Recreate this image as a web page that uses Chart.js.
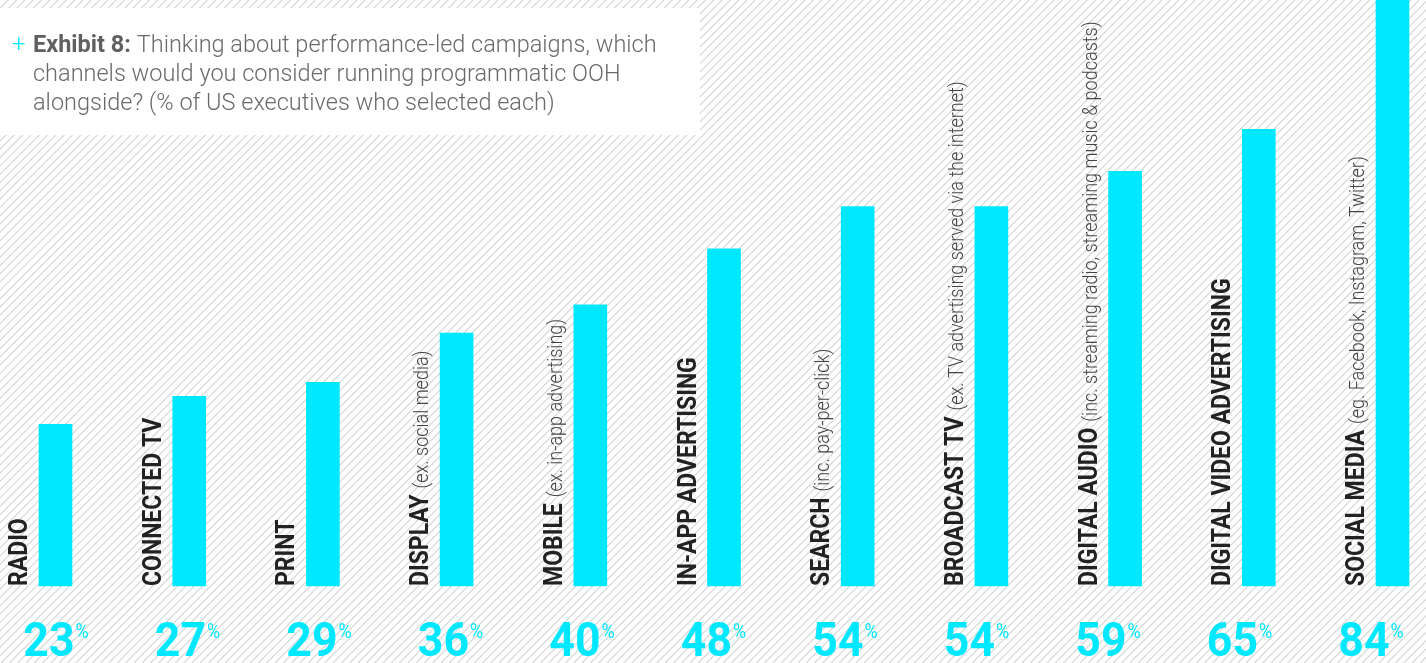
<!DOCTYPE html>
<html>
<head>
<meta charset="utf-8">
<script src="https://cdn.jsdelivr.net/npm/chart.js@4"></script>
<style>
html,body{margin:0;padding:0;background:#fff;}
canvas{display:block;}
</style>
</head>
<body>
<canvas id="c" width="1426" height="663"></canvas>
<script>
// ---- data ----
const channelNames = ["RADIO","CONNECTED TV","PRINT","DISPLAY","MOBILE","IN-APP ADVERTISING","SEARCH","BROADCAST TV","DIGITAL AUDIO","DIGITAL VIDEO ADVERTISING","SOCIAL MEDIA"];
const channelNotes = ["","","","(ex. social media)","(ex. in-app advertising)","","(inc. pay-per-click)","(ex. TV advertising served via the internet)","(inc. streaming radio, streaming music & podcasts)","","(eg. Facebook, Instagram, Twitter)"];
const shareSelected = [23,27,29,36,40,48,54,54,59,65,84];
const titleLines = ["Thinking about performance-led campaigns, which","channels would you consider running programmatic OOH","alongside? (% of US executives who selected each)"];
const exhibitLabel = "Exhibit 8:";

const CYAN = '#00E8FF';

const bgPlugin = {
  id: 'bg',
  beforeDraw(chart) {
    const ctx = chart.ctx, W = chart.width, H = chart.height;
    ctx.save();
    ctx.fillStyle = '#fff';
    ctx.fillRect(0, 0, W, H);
    ctx.strokeStyle = '#d8d8d8';
    ctx.lineWidth = 1.2;
    ctx.beginPath();
    for (let k = -H; k < W + H; k += 8.3) {
      ctx.moveTo(k, H);
      ctx.lineTo(k + H, 0);
    }
    ctx.stroke();
    // title box
    ctx.fillStyle = '#fff';
    ctx.fillRect(0, 8, 700, 127);
    // title text
    const sx = 1.0;
    const base = [52, 81, 110];
    ctx.textBaseline = 'alphabetic';
    ctx.textAlign = 'left';
    ctx.fillStyle = CYAN;
    ctx.font = '300 24px Roboto';
    ctx.fillText('+', 12, base[0]);
    // line 1
    ctx.save();
    ctx.translate(33, base[0]);
    ctx.scale(sx, 1);
    ctx.font = 'bold 23.5px Roboto';
    ctx.fillStyle = '#606060';
    ctx.fillText(exhibitLabel, 0, 0);
    const ew = ctx.measureText(exhibitLabel + ' ').width;
    ctx.font = '300 23.5px Roboto';
    ctx.fillStyle = '#6a6a6a';
    ctx.fillText(titleLines[0], ew, 0);
    ctx.restore();
    for (let i = 1; i < titleLines.length; i++) {
      ctx.save();
      ctx.translate(33, base[i]);
      ctx.scale(sx, 1);
      ctx.font = '300 23.5px Roboto';
      ctx.fillStyle = '#6a6a6a';
      ctx.fillText(titleLines[i], 0, 0);
      ctx.restore();
    }
    ctx.restore();
  }
};

const labelPlugin = {
  id: 'labels',
  afterDatasetsDraw(chart) {
    const ctx = chart.ctx;
    const meta = chart.getDatasetMeta(0);
    meta.data.forEach((el, i) => {
      const left = el.x - el.width / 2;
      const bottom = el.base;
      // rotated category label
      ctx.save();
      ctx.translate(left - 12, bottom);
      ctx.rotate(-Math.PI / 2);
      ctx.textBaseline = 'alphabetic';
      ctx.textAlign = 'left';
      ctx.save();
      ctx.scale(0.92, 1);
      ctx.font = 'bold 25px Roboto';
      ctx.fillStyle = '#222';
      ctx.fillText(channelNames[i], 0, 0);
      const mw = ctx.measureText(channelNames[i]).width * 0.92;
      ctx.restore();
      if (channelNotes[i]) {
        ctx.save();
        ctx.translate(mw + 6, 0);
        ctx.scale(0.9, 1);
        ctx.font = '300 20px Roboto';
        ctx.fillStyle = '#444';
        ctx.fillText(channelNotes[i], 0, 0);
        ctx.restore();
      }
      ctx.restore();
      // percentage number
      const numTxt = String(shareSelected[i]);
      ctx.save();
      ctx.font = 'bold 48px Roboto';
      const nsx = 0.93;
      const nw = ctx.measureText(numTxt).width * nsx;
      ctx.font = '400 20px Roboto';
      const pw = ctx.measureText('%').width * 0.9;
      const cx = el.x - 2.2 * i;
      const startX = cx - (nw + pw) / 2;
      ctx.fillStyle = CYAN;
      ctx.textBaseline = 'alphabetic';
      ctx.textAlign = 'left';
      ctx.save();
      ctx.translate(startX, 656);
      ctx.scale(nsx, 1);
      ctx.font = 'bold 48px Roboto';
      ctx.fillText(numTxt, 0, 0);
      ctx.restore();
      ctx.save();
      ctx.translate(startX + nw + 1, 638);
      ctx.scale(0.9, 1);
      ctx.font = '400 20px Roboto';
      ctx.fillText('%', 0, 0);
      ctx.restore();
      ctx.restore();
    });
  }
};

new Chart(document.getElementById('c'), {
  type: 'bar',
  data: {
    labels: channelNames,
    datasets: [{
      data: shareSelected,
      backgroundColor: CYAN,
      borderWidth: 0,
      barThickness: 33,
      clip: false
    }]
  },
  options: {
    responsive: false,
    animation: false,
    layout: { padding: { left: 55.5, right: 33.5, top: 0, bottom: 77 } },
    plugins: { legend: { display: false }, tooltip: { enabled: false }, title: { display: false } },
    scales: {
      x: { type: 'category', offset: false, display: false, grid: { display: false } },
      y: { min: 0, max: 83.4, display: false, grid: { display: false } }
    }
  },
  plugins: [bgPlugin, labelPlugin]
});
</script>
</body>
</html>
